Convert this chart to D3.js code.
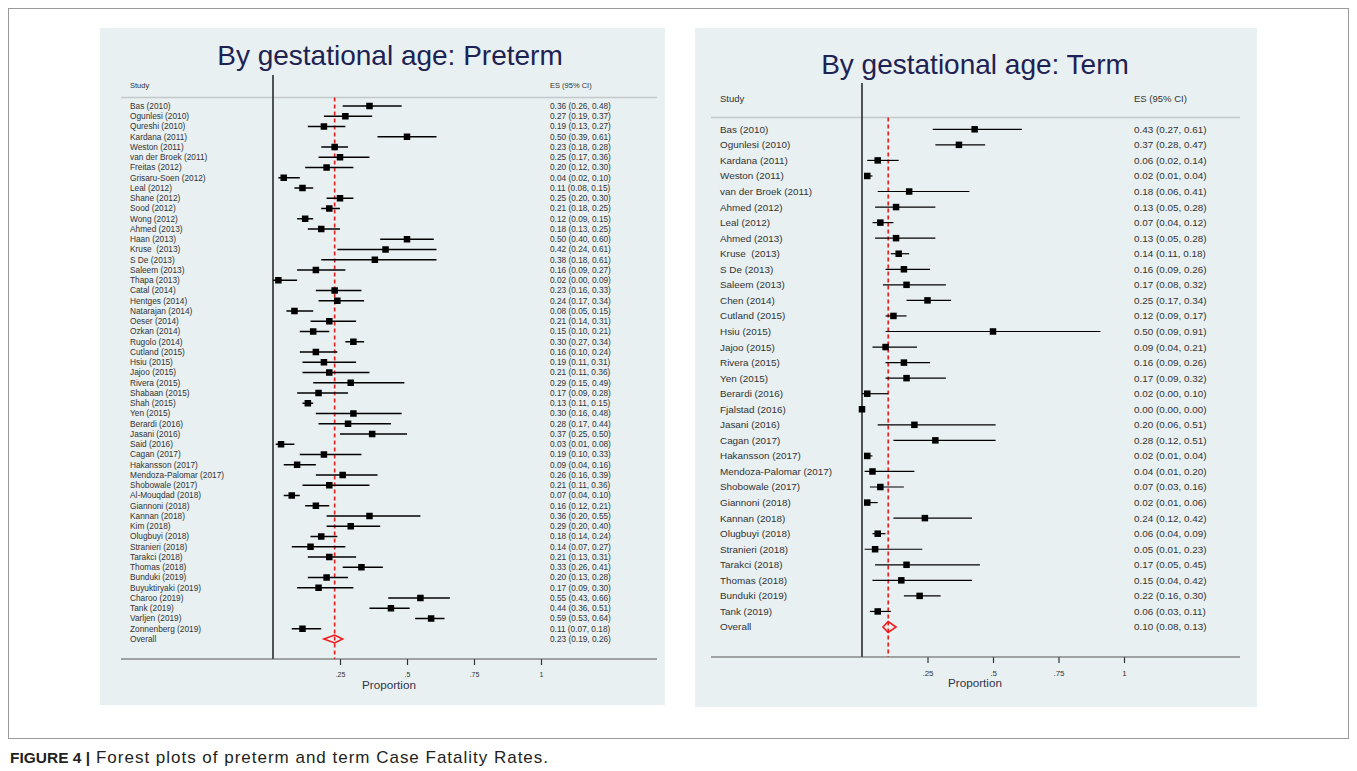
<!DOCTYPE html>
<html>
<head>
<meta charset="utf-8">
<script src="https://cdn.jsdelivr.net/npm/d3@7"></script>
<style>
  html, body { margin: 0; padding: 0; background: #fff; }
  svg { display: block; font-family: "Liberation Sans", Arial, sans-serif; }
</style>
</head>
<body>
<svg id="chart" width="1357" height="771"></svg>
<script>
// ---- data: preterm ----
const pretermStudies = ["Bas (2010)", "Ogunlesi (2010)", "Qureshi (2010)", "Kardana (2011)", "Weston (2011)",
  "van der Broek (2011)", "Freitas (2012)", "Grisaru-Soen (2012)", "Leal (2012)", "Shane (2012)", "Sood (2012)",
  "Wong (2012)", "Ahmed (2013)", "Haan (2013)", "Kruse  (2013)", "S De (2013)", "Saleem (2013)", "Thapa (2013)",
  "Catal (2014)", "Hentges (2014)", "Natarajan (2014)", "Oeser (2014)", "Ozkan (2014)", "Rugolo (2014)",
  "Cutland (2015)", "Hsiu (2015)", "Jajoo (2015)", "Rivera (2015)", "Shabaan (2015)", "Shah (2015)", "Yen (2015)",
  "Berardi (2016)", "Jasani (2016)", "Said (2016)", "Cagan (2017)", "Hakansson (2017)", "Mendoza-Palomar (2017)",
  "Shobowale (2017)", "Al-Mouqdad (2018)", "Giannoni (2018)", "Kannan (2018)", "Kim (2018)", "Olugbuyi (2018)",
  "Stranieri (2018)", "Tarakci (2018)", "Thomas (2018)", "Bunduki (2019)", "Buyuktiryaki (2019)", "Charoo (2019)",
  "Tank (2019)", "Varljen (2019)", "Zonnenberg (2019)"];
const pretermES = [0.36, 0.27, 0.19, 0.50, 0.23, 0.25, 0.20, 0.04, 0.11, 0.25, 0.21, 0.12, 0.18, 0.50, 0.42, 0.38,
  0.16, 0.02, 0.23, 0.24, 0.08, 0.21, 0.15, 0.30, 0.16, 0.19, 0.21, 0.29, 0.17, 0.13, 0.30, 0.28, 0.37, 0.03, 0.19,
  0.09, 0.26, 0.21, 0.07, 0.16, 0.36, 0.29, 0.18, 0.14, 0.21, 0.33, 0.20, 0.17, 0.55, 0.44, 0.59, 0.11];
const pretermLow = [0.26, 0.19, 0.13, 0.39, 0.18, 0.17, 0.12, 0.02, 0.08, 0.20, 0.18, 0.09, 0.13, 0.40, 0.24, 0.18,
  0.09, 0.00, 0.16, 0.17, 0.05, 0.14, 0.10, 0.27, 0.10, 0.11, 0.11, 0.15, 0.09, 0.11, 0.16, 0.17, 0.25, 0.01, 0.10,
  0.04, 0.16, 0.11, 0.04, 0.12, 0.20, 0.20, 0.14, 0.07, 0.13, 0.26, 0.13, 0.09, 0.43, 0.36, 0.53, 0.07];
const pretermHigh = [0.48, 0.37, 0.27, 0.61, 0.28, 0.36, 0.30, 0.10, 0.15, 0.30, 0.25, 0.15, 0.25, 0.60, 0.61, 0.61,
  0.27, 0.09, 0.33, 0.34, 0.15, 0.31, 0.21, 0.34, 0.24, 0.31, 0.36, 0.49, 0.28, 0.15, 0.48, 0.44, 0.50, 0.08, 0.33,
  0.16, 0.39, 0.36, 0.10, 0.21, 0.55, 0.40, 0.24, 0.27, 0.31, 0.41, 0.28, 0.30, 0.66, 0.51, 0.64, 0.18];
const pretermOverall = [0.23, 0.19, 0.26];

// ---- data: term ----
const termStudies = ["Bas (2010)", "Ogunlesi (2010)", "Kardana (2011)", "Weston (2011)", "van der Broek (2011)",
  "Ahmed (2012)", "Leal (2012)", "Ahmed (2013)", "Kruse  (2013)", "S De (2013)", "Saleem (2013)", "Chen (2014)",
  "Cutland (2015)", "Hsiu (2015)", "Jajoo (2015)", "Rivera (2015)", "Yen (2015)", "Berardi (2016)", "Fjalstad (2016)",
  "Jasani (2016)", "Cagan (2017)", "Hakansson (2017)", "Mendoza-Palomar (2017)", "Shobowale (2017)",
  "Giannoni (2018)", "Kannan (2018)", "Olugbuyi (2018)", "Stranieri (2018)", "Tarakci (2018)", "Thomas (2018)",
  "Bunduki (2019)", "Tank (2019)"];
const termES = [0.43, 0.37, 0.06, 0.02, 0.18, 0.13, 0.07, 0.13, 0.14, 0.16, 0.17, 0.25, 0.12, 0.50, 0.09, 0.16,
  0.17, 0.02, 0.00, 0.20, 0.28, 0.02, 0.04, 0.07, 0.02, 0.24, 0.06, 0.05, 0.17, 0.15, 0.22, 0.06];
const termLow = [0.27, 0.28, 0.02, 0.01, 0.06, 0.05, 0.04, 0.05, 0.11, 0.09, 0.08, 0.17, 0.09, 0.09, 0.04, 0.09,
  0.09, 0.00, 0.00, 0.06, 0.12, 0.01, 0.01, 0.03, 0.01, 0.12, 0.04, 0.01, 0.05, 0.04, 0.16, 0.03];
const termHigh = [0.61, 0.47, 0.14, 0.04, 0.41, 0.28, 0.12, 0.28, 0.18, 0.26, 0.32, 0.34, 0.17, 0.91, 0.21, 0.26,
  0.32, 0.10, 0.00, 0.51, 0.51, 0.04, 0.20, 0.16, 0.06, 0.42, 0.09, 0.23, 0.45, 0.42, 0.30, 0.11];
const termOverall = [0.10, 0.08, 0.13];

const tickValues = [0.25, 0.5, 0.75, 1];
const tickLabels = [".25", ".5", ".75", "1"];

const svg = d3.select("#chart");
const fmt = d3.format(".2f");
const ciText = (e, l, h) => `${fmt(e)} (${fmt(l)}, ${fmt(h)})`;

// outer frame + caption
svg.append("rect")
  .attr("x", 8.5).attr("y", 8.5).attr("width", 1340).attr("height", 730)
  .attr("fill", "none").attr("stroke", "#9a9a9a").attr("stroke-width", 1);

svg.append("text").attr("x", 10).attr("y", 763)
  .style("font-size", "15.5px").attr("font-weight", "bold").attr("fill", "#231f20")
  .text("FIGURE 4 |");
svg.append("text").attr("x", 96).attr("y", 763)
  .style("font-size", "17px").attr("fill", "#231f20")
  .attr("textLength", 452).attr("lengthAdjust", "spacing")
  .text("Forest plots of preterm and term Case Fatality Rates.");

function drawForest(p) {
  const g = svg.append("g");
  const n = p.studies.length;

  g.append("rect")
    .attr("x", p.box[0]).attr("y", p.box[1]).attr("width", p.box[2]).attr("height", p.box[3])
    .attr("fill", "#e8f0f2");

  g.append("text")
    .attr("x", p.titleX).attr("y", p.titleY)
    .attr("text-anchor", "middle")
    .style("font-size", "28px")
    .attr("fill", "#1e2252")
    .text(p.title);

  const x = d3.scaleLinear().domain([0, 1]).range([p.x0, p.x1]);
  const y = d3.scaleLinear().domain([0, n]).range([p.firstRow, p.overallRow]);

  // header
  g.append("text").attr("x", p.labelX).attr("y", p.headerY).attr("dy", "0.35em")
    .style("font-size", p.headFont + "px").attr("fill", "#333").text("Study");
  g.append("text").attr("x", p.valX).attr("y", p.headerY).attr("dy", "0.35em")
    .style("font-size", p.headFont + "px").attr("fill", "#333").text("ES (95% CI)");
  g.append("line")
    .attr("x1", p.left).attr("x2", p.right)
    .attr("y1", p.ruleY).attr("y2", p.ruleY)
    .attr("stroke", "#c4c8ca").attr("stroke-width", 1.5);

  // null line
  g.append("line")
    .attr("x1", x(0)).attr("x2", x(0))
    .attr("y1", p.nullTop).attr("y2", p.axisY)
    .attr("stroke", "#111").attr("stroke-width", 1.4);

  // x axis
  const axis = g.append("g").attr("transform", `translate(0,${p.axisY})`)
    .call(d3.axisBottom(x).tickValues(tickValues)
      .tickFormat((d, i) => tickLabels[i]).tickSize(6).tickPadding(7));
  axis.select(".domain").remove();
  axis.selectAll(".tick line").attr("stroke", "#333").attr("stroke-width", 1.2);
  axis.selectAll(".tick text").style("font-size", p.tickFont + "px")
    .style("font-family", "'Liberation Sans', Arial, sans-serif").attr("fill", "#333");
  g.append("line")
    .attr("x1", p.left).attr("x2", p.right)
    .attr("y1", p.axisY).attr("y2", p.axisY)
    .attr("stroke", "#555").attr("stroke-width", 1.2);
  g.append("text")
    .attr("x", (x(0) + x(1)) / 2 + p.propShift).attr("y", p.axisY + 30)
    .attr("text-anchor", "middle")
    .style("font-size", "11.7px").attr("fill", "#333348")
    .text("Proportion");

  // overall dashed line
  g.append("line")
    .attr("x1", x(p.overall[0])).attr("x2", x(p.overall[0]))
    .attr("y1", p.ruleY).attr("y2", p.axisY)
    .attr("stroke", "#f01a1a").attr("stroke-width", 1.6)
    .attr("stroke-dasharray", "4,3");

  // rows
  const rows = g.selectAll("g.row")
    .data(p.studies.map((s, i) => ({ s, i, es: p.es[i], lo: p.lo[i], hi: p.hi[i] })))
    .enter().append("g").attr("class", "row");

  rows.append("text")
    .attr("x", p.labelX).attr("y", d => y(d.i)).attr("dy", "0.35em")
    .style("font-size", p.font + "px").attr("fill", "#333")
    .style("white-space", "pre")
    .text(d => d.s);

  rows.append("text")
    .attr("x", p.valX).attr("y", d => y(d.i)).attr("dy", "0.35em")
    .style("font-size", p.font + "px").attr("fill", "#333")
    .text(d => ciText(d.es, d.lo, d.hi));

  rows.append("line")
    .attr("x1", d => x(d.lo)).attr("x2", d => x(d.hi))
    .attr("y1", d => y(d.i)).attr("y2", d => y(d.i))
    .attr("stroke", "#000").attr("stroke-width", p.ciWidth);

  rows.append("rect")
    .attr("x", d => x(d.es) - p.box_ / 2).attr("y", d => y(d.i) - p.box_ / 2)
    .attr("width", p.box_).attr("height", p.box_)
    .attr("fill", "#000");

  // overall row
  const oy = y(n);
  g.append("text").attr("x", p.labelX).attr("y", oy).attr("dy", "0.35em")
    .style("font-size", p.font + "px").attr("fill", "#333").text("Overall");
  g.append("text").attr("x", p.valX).attr("y", oy).attr("dy", "0.35em")
    .style("font-size", p.font + "px").attr("fill", "#333")
    .text(ciText(p.overall[0], p.overall[1], p.overall[2]));
  const dh = p.diamondH;
  g.append("path")
    .attr("d", `M${x(p.overall[1])},${oy} L${x(p.overall[0])},${oy - dh} L${x(p.overall[2])},${oy} L${x(p.overall[0])},${oy + dh} Z`)
    .attr("fill", "none").attr("stroke", "#f01a1a").attr("stroke-width", 1.6);
}

drawForest({
  title: "By gestational age: Preterm", titleX: 390, titleY: 65,
  box: [100, 28, 565, 677],
  studies: pretermStudies, es: pretermES, lo: pretermLow, hi: pretermHigh, overall: pretermOverall,
  x0: 273, x1: 541, firstRow: 106, overallRow: 639,
  left: 121, right: 657, labelX: 130, valX: 550, headerY: 85, ruleY: 97.5,
  nullTop: 75, axisY: 659, font: 8.3, headFont: 7.5, tickFont: 7, propShift: -18,
  ciWidth: 1.5, box_: 6.5, diamondH: 4
});

drawForest({
  title: "By gestational age: Term", titleX: 975, titleY: 74,
  box: [695, 28, 562, 679],
  studies: termStudies, es: termES, lo: termLow, hi: termHigh, overall: termOverall,
  x0: 862, x1: 1124, firstRow: 129.3, overallRow: 627,
  left: 711, right: 1240, labelX: 720, valX: 1134, headerY: 99, ruleY: 117.5,
  nullTop: 83, axisY: 657, font: 9.9, headFont: 9.5, tickFont: 8, propShift: -18,
  ciWidth: 1.2, box_: 6.5, diamondH: 5.5
});
</script>
</body>
</html>
